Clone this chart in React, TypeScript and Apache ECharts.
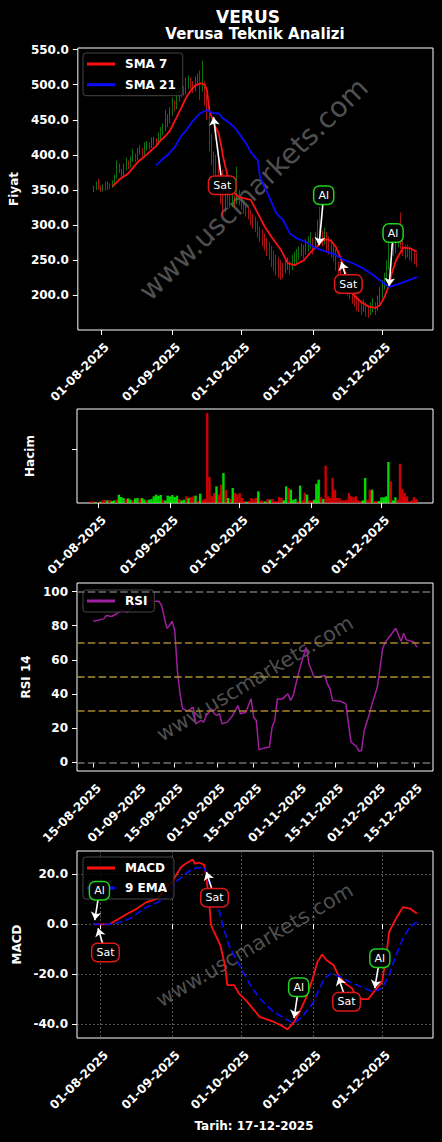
import { useEffect, useRef } from 'react';
import * as echarts from 'echarts';

const F = 'DejaVu Sans';
const START = Date.UTC(2025, 6, 29);
const DAY = 86400000;
const day = (i: number) => START + i * DAY;

// candles: [open, close, low, high], one per day from 29-07-2025
const candles: number[][] = [
  [350,352,347,356],[352,357,350,362],[357,355,350,366],[355,350,347,357],[350,354,348,358],
  [354,352,349,362],[352,356,350,362],[356,355,351,360],[355,360,353,364],[360,368,358,372],
  [368,385,366,392],[385,378,374,388],[378,372,368,380],[372,380,370,388],[380,388,378,396],
  [388,384,380,392],[384,392,382,398],[392,398,390,408],[398,395,390,402],[395,402,392,410],
  [402,406,400,414],[406,403,398,410],[403,410,400,418],[410,414,406,420],[414,412,408,418],
  [412,418,410,425],[418,420,414,426],[420,416,412,424],[416,424,414,432],[424,432,420,440],
  [432,438,428,445],[438,446,434,464],[446,448,440,458],[448,460,445,468],[460,470,456,482],
  [470,468,462,478],[468,480,465,489],[480,488,476,495],[488,494,482,500],[494,490,484,498],
  [490,498,486,510],[498,505,494,513],[505,500,494,510],[500,496,488,505],[496,505,490,512],
  [505,510,498,516],[510,498,478,520],[498,502,490,534],[502,480,470,506],[480,462,450,488],
  [462,420,405,470],[420,400,385,430],[400,395,372,405],[395,385,369,400],[385,368,355,392],
  [368,345,330,375],[345,322,312,379],[322,340,318,350],[340,335,326,355],[335,330,324,345],
  [330,338,326,348],[338,332,326,342],[332,345,330,383],[345,335,328,350],[335,330,322,340],
  [330,325,316,336],[325,322,312,330],[322,318,308,326],[318,310,300,322],[310,305,295,316],
  [305,300,290,312],[300,292,282,306],[292,288,276,298],[288,282,270,294],[282,276,264,288],
  [276,270,256,282],[270,265,250,276],[265,258,240,270],[258,252,235,264],[252,248,228,258],
  [248,245,225,254],[245,240,222,250],[240,238,224,246],[238,242,232,250],[242,246,236,254],
  [246,240,230,250],[240,248,236,258],[248,252,242,262],[252,256,246,266],[256,262,250,270],
  [262,266,256,274],[266,262,252,272],[262,268,258,280],[268,272,262,284],[272,275,266,290],
  [275,270,258,282],[270,278,266,290],[278,290,274,308],[290,284,276,326],[284,282,270,292],
  [282,285,272,296],[285,280,264,290],[280,276,258,284],[276,270,254,280],[270,262,248,274],
  [262,244,235,266],[244,234,227,248],[234,226,218,240],[226,222,210,230],[222,215,205,226],
  [215,210,200,218],[210,204,195,214],[204,198,188,210],[198,194,184,206],[194,190,178,200],
  [190,186,176,196],[186,182,172,192],[182,185,176,194],[185,180,170,190],[180,176,168,186],
  [176,182,172,190],[182,186,176,196],[186,180,172,190],[180,190,178,200],[190,200,186,212],
  [200,212,196,222],[212,225,208,232],[225,240,220,250],[240,255,236,275],[255,262,250,272],
  [262,268,256,276],[268,272,260,280],[272,290,268,300],[290,272,266,318],[272,268,256,280],
  [268,265,252,272],[265,263,254,272],[263,262,250,270],[262,258,248,268],[258,255,244,264],
  [255,248,240,260],
];

const volumes: number[] = [
  4,5,3,3,4,8,9,8,9,6, 8,10,25,18,15,12,14,10,8,14, 15,13,15,10,8,10,12,20,25,22,
  24,10,8,22,20,24,18,22,12,8, 10,20,15,18,20,22,6,28,10,12, 270,78,20,30,50,25,55,90,40,15,
  12,45,30,25,30,15,5,4,6,15, 12,15,35,8,6,5,12,10,12,6, 5,18,15,8,50,45,40,10,12,5,
  52,8,30,25,8,6,10,58,70,18, 12,112,20,15,75,40,15,15,8,8, 10,30,20,18,20,8,6,8,75,10,
  40,40,6,5,6,17,17,20,123,65, 8,17,10,118,42,30,20,5,8,18, 12,
];
const volumeDir =
  'rrgrgrrgrg' + 'grgggrggrg' + 'grggrggggg' + 'grggggggrg' + 'grgrrgrgrr' +
  'rrrrgrrgrg' + 'rgrrrrrgrr' + 'rrgrrgrgrr' + 'rrrggrgggr' + 'grrgrrgggr' +
  'grrrrrrrrr' + 'rrrrrrrggr' + 'rgrrgggggr' + 'ggrrrrrrrr' + 'r';

const sma7: number[][] = [
  [8,355],[11,365],[15,374],[19,390],[22,398],[25,407],[27,413],[29,421],[31,427],[33,435],
  [35,448],[38,468],[40,482],[42,492],[44,499],[46,502],[48,500],[49,492],[50,464],[52,445],
  [54,431],[55,416],[56,397],[58,369],[59,355],[61,345],[63,340],[68,336],[71,317],[74,298],
  [77,283],[81,265],[84,246],[87,243],[91,250],[95,265],[97,270],[99,278],[101,280],[103,277],
  [105,268],[107,253],[109,232],[111,210],[113,199],[116,190],[119,184],[122,182],[124,186],
  [126,198],[128,215],[129,230],[131,250],[134,268],[137,267],[140,262],
];
const sma21: number[][] = [
  [27,385],[30,395],[32,400],[35,411],[38,428],[40,435],[43,449],[46,459],[49,464],[51,460],
  [54,459],[56,452],[59,445],[61,439],[63,430],[66,416],[68,404],[71,392],[72,369],[74,354],
  [76,340],[79,317],[82,307],[85,288],[88,281],[92,276],[95,269],[100,263],[104,259],[108,251],
  [112,246],[117,238],[121,229],[125,219],[128,212],[131,215],[136,221],[140,226],
];
const rsi: number[][] = [
  [17,82.6],[21,84],[22,86],[24,85.4],[26,87],[28,89.3],[30,87.9],[32,90.8],[34,93.7],[35,94.3],
  [42,94.3],[43,91.8],[45,78.5],[46,80],[47,82.6],[48,77.2],[49,53.8],[50,40.2],[51,31.4],[53,30],
  [54,31.4],[55,32.3],[56,22.6],[58,24.6],[59,23.6],[60,27.5],[62,31.4],[63,28.5],[64,27.5],[65,28.5],
  [66,22.6],[68,23.6],[70,27.5],[72,33.3],[73,28.5],[75,29.4],[76,33.3],[77,37.2],[78,26.5],[79,24.6],
  [80,7.4],[82,8.4],[84,9],[85,20.6],[86,24.6],[87,37.2],[89,37.2],[91,40.2],[92,36.3],[93,39.2],
  [95,51.9],[96,57.7],[98,67.4],[99,57.7],[101,49.9],[102,49.9],[105,50.9],[106,46],[107,43.1],[108,36.3],
  [111,35.8],[113,34.3],[115,11.9],[117,9.5],[118,6.6],[119,7],[120,18.7],[122,28.5],[123,34.3],[125,44],
  [127,66.5],[128,70.4],[130,74.3],[132,78.5],[134,70.9],[135,75.6],[136,71.8],[139,70.4],[140,67.4],
];
const macd: number[][] = [
  [0,0],[7,0],[10,1.6],[15,4.3],[19,6.3],[23,8.9],[28,10.3],[30,12.9],[34,16.9],[38,22.9],
  [40,24.3],[43,26],[44,24.3],[46,24.7],[48,23.9],[49,18.3],[50,10.3],[51,-0.4],[53,-4.4],[55,-8.4],
  [57,-16.4],[58,-24.4],[61,-24.4],[63,-27.7],[66,-30.4],[69,-33.7],[72,-37.1],[77,-38.7],[81,-40.4],[84,-42.1],
  [87,-39.1],[90,-33.7],[92,-29.7],[95,-21.7],[97,-15.1],[99,-12.1],[101,-14.4],[104,-16.4],[106,-20.4],[109,-23.7],
  [112,-25.7],[114,-29.7],[117,-30],[119,-30],[122,-26.4],[125,-23.1],[127,-11.1],[128,-3.1],[131,2.3],[134,6.9],
  [137,6.3],[140,4.3],
];
const signal: number[][] = [
  [0,0],[7,0],[12,0.9],[16,2.3],[22,6.3],[28,8.9],[32,10.9],[35,16.3],[39,19.6],[43,22.3],
  [48,22.9],[50,16.9],[54,7.6],[56,-0.4],[59,-9.1],[64,-17.7],[68,-24.4],[72,-29.7],[78,-35.1],[84,-38.4],
  [87,-39.7],[91,-36.4],[95,-31.7],[100,-21.7],[103,-19.7],[107,-21.1],[111,-23.1],[116,-25.1],[121,-27.1],[125,-25.7],
  [128,-20.4],[131,-12.4],[134,-5.7],[137,-1.1],[140,0.9],
];

// signals: kind, arrow tip [dayIndex, value], label box [dayIndex, value]
const priceSignals: { kind: string; tip: number[]; box: number[] }[] = [
  { kind: 'Sat', tip: [51.8, 453.7], box: [55.6, 356.9] },
  { kind: 'Al', tip: [97.6, 271.5], box: [99.6, 342.7] },
  { kind: 'Sat', tip: [107.2, 247.3], box: [110.3, 216.0] },
  { kind: 'Al', tip: [128.0, 213.2], box: [129.7, 288.6] },
];
const macdSignals: { kind: string; tip: number[]; box: number[] }[] = [
  { kind: 'Al', tip: [0.7, 1.7], box: [2.7, 13.5] },
  { kind: 'Sat', tip: [2.1, -1.6], box: [5.3, -11.3] },
  { kind: 'Sat', tip: [49.0, 21.0], box: [52.5, 10.7] },
  { kind: 'Al', tip: [86.9, -37.6], box: [88.9, -25.2] },
  { kind: 'Sat', tip: [106.1, -21.2], box: [109.6, -31.1] },
  { kind: 'Al', tip: [121.8, -25.6], box: [124.0, -13.6] },
];

const monthTicks = [Date.UTC(2025,7,1), Date.UTC(2025,8,1), Date.UTC(2025,9,1), Date.UTC(2025,10,1), Date.UTC(2025,11,1)];
const rsiDateTicks = [
  Date.UTC(2025,7,15), Date.UTC(2025,8,1), Date.UTC(2025,8,15), Date.UTC(2025,9,1), Date.UTC(2025,9,15),
  Date.UTC(2025,10,1), Date.UTC(2025,10,15), Date.UTC(2025,11,1), Date.UTC(2025,11,15),
];
const priceYTicks = [200, 250, 300, 350, 400, 450, 500, 550];
const volumeYTicks = [162];
const rsiYTicks = [0, 20, 40, 60, 80, 100];
const macdYTicks = [-40, -20, 0, 20];
const rsiLevels = [
  { v: 0, c: '#6e6e6e' }, { v: 100, c: '#6e6e6e' },
  { v: 30, c: '#a8842c' }, { v: 50, c: '#a8942c' }, { v: 70, c: '#a8842c' },
];

const GREEN = '#12a512';
const RED = '#f01c1c';
const SOLID_ICON = 'path://M0,0H28V3H0Z';
const DASH_ICON = 'path://M0,0H8V3H0ZM10.5,0H17.5V3H10.5ZM20,0H28V3H20Z';
const pad2 = (n: number) => String(n).padStart(2, '0');
const fmtDate = (v: number) => {
  const d = new Date(v);
  return `${pad2(d.getUTCDate())}-${pad2(d.getUTCMonth() + 1)}-${d.getUTCFullYear()}`;
};

const labelBase = { color: '#fff', fontWeight: 'bold' as const, fontSize: 12, fontFamily: F };

function makeX(gridIndex: number, min: number, max: number, ticks: number[]) {
  return {
    type: 'value', gridIndex, min, max, scale: true,
    axisLine: { show: false },
    axisTick: { show: true, customValues: ticks, length: 5, lineStyle: { color: '#fff', width: 1 } },
    axisLabel: { ...labelBase, customValues: ticks, rotate: 45, formatter: (v: number) => fmtDate(v), margin: 9, verticalAlign: 'top', lineHeight: 17, hideOverlap: false },
    splitLine: { show: gridIndex === 3, lineStyle: { color: '#666', width: 0.8, type: [2, 2] } },
  };
}
function makeY(gridIndex: number, min: number, max: number, ticks: number[], name: string, gap: number, fmt: (v: number) => string, showLabel = true) {
  return {
    type: 'value', gridIndex, min, max, name, nameLocation: 'middle', nameGap: gap, nameRotate: 90,
    nameTextStyle: { ...labelBase },
    axisLine: { show: false },
    axisTick: { show: true, customValues: ticks, length: 5, lineStyle: { color: '#fff', width: 1 } },
    axisLabel: { ...labelBase, show: showLabel, customValues: ticks, formatter: fmt, margin: 9 },
    splitLine: { show: gridIndex === 3, lineStyle: { color: '#666', width: 0.8, type: [2, 2] } },
  };
}

function signalSeries(gridIndex: number, sigs: { kind: string; tip: number[]; box: number[] }[]) {
  return [
    {
      type: 'scatter', xAxisIndex: gridIndex, yAxisIndex: gridIndex, data: [], z: 8, silent: true,
      markLine: {
        silent: true, symbol: ['none', 'arrow'], symbolSize: 8, label: { show: false },
        lineStyle: { color: '#fff', width: 1.6, type: 'solid' },
        emphasis: { disabled: true },
        data: sigs.map((s) => [{ coord: [day(s.box[0]), s.box[1]] }, { coord: [day(s.tip[0]), s.tip[1]] }]),
      },
    },
    {
      type: 'scatter', xAxisIndex: gridIndex, yAxisIndex: gridIndex, data: [], z: 9, silent: true,
      markPoint: {
        silent: true, symbol: 'rect', symbolSize: 1, itemStyle: { color: 'rgba(0,0,0,0)' },
        data: sigs.map((s) => ({
          name: s.kind, coord: [day(s.box[0]), s.box[1]],
          label: {
            show: true, position: 'inside', formatter: s.kind, color: '#fff', fontSize: 11, fontFamily: F,
            backgroundColor: '#000', borderColor: s.kind === 'Al' ? '#1ed41e' : '#e01818', borderWidth: 1.5,
            borderRadius: 5, padding: [3, 4, 3, 4],
          },
        })),
      },
    },
  ];
}

const legendBase = {
  orient: 'vertical', left: 83, padding: [4, 7, 4, 4], itemWidth: 28, itemHeight: 3,
  backgroundColor: 'rgba(0,0,0,0.8)', borderColor: '#444', borderWidth: 1, borderRadius: 3,
  textStyle: { ...labelBase, padding: [0, 0, 0, 5], lineHeight: 14 }, selectedMode: false,
};

export default function App() {
  const ref = useRef<HTMLDivElement>(null);
  useEffect(() => {
    document.body.style.margin = '0';
    document.body.style.background = '#000';
    if (!ref.current) return;
    const chart = echarts.init(ref.current, null, { renderer: 'svg' });
    const option: any = {
      animation: false,
      backgroundColor: '#000',
      grid: [
        { left: 77, top: 48, width: 356, height: 282, show: true, borderColor: '#fff', borderWidth: 1, backgroundColor: 'transparent' },
        { left: 77, top: 409, width: 356, height: 94, show: true, borderColor: '#fff', borderWidth: 1, backgroundColor: 'transparent' },
        { left: 77, top: 583, width: 356, height: 188, show: true, borderColor: '#fff', borderWidth: 1, backgroundColor: 'transparent' },
        { left: 77, top: 851, width: 356, height: 187, show: true, borderColor: '#fff', borderWidth: 1, backgroundColor: 'transparent' },
      ],
      xAxis: [
        makeX(0, day(-7), day(147), monthTicks),
        makeX(1, day(-6.04), day(147.2), monthTicks),
        makeX(2, day(10.85), day(146.15), rsiDateTicks),
        makeX(3, day(-7), day(147), monthTicks),
      ],
      yAxis: [
        makeY(0, 150.6, 552.3, priceYTicks, 'Fiyat', 55, (v) => v.toFixed(1)),
        makeY(1, 0, 282, volumeYTicks, 'Hacim', 41, () => '', false),
        makeY(2, -5, 105, rsiYTicks, 'RSI 14', 41, (v) => String(v)),
        makeY(3, -45.6, 29.4, macdYTicks, 'MACD', 53, (v) => v.toFixed(1)),
      ],
      legend: [
        { ...legendBase, top: 53, itemGap: 6.7, data: [{ name: 'SMA 7', icon: SOLID_ICON }, { name: 'SMA 21', icon: SOLID_ICON }] },
        { ...legendBase, top: 590, itemGap: 6, data: [{ name: 'RSI', icon: SOLID_ICON }] },
        { ...legendBase, top: 857, itemGap: 6, data: [{ name: 'MACD', icon: SOLID_ICON }, { name: '9 EMA', icon: DASH_ICON }] },
      ],
      graphic: [
        { type: 'text', x: 248, y: 16.5, z: 10, style: { text: 'VERUS', fill: '#fff', font: `bold 17px "${F}"`, align: 'center', verticalAlign: 'middle' } },
        { type: 'text', x: 255, y: 34, z: 10, style: { text: 'Verusa Teknik Analizi', fill: '#fff', font: `bold 15px "${F}"`, align: 'center', verticalAlign: 'middle' } },
        { type: 'text', x: 254, y: 1126, z: 10, style: { text: 'Tarih: 17-12-2025', fill: '#fff', font: `bold 12px "${F}"`, align: 'center', verticalAlign: 'middle' } },
        { type: 'text', x: 253.5, y: 189, z: 1, rotation: (44 * Math.PI) / 180, style: { text: 'www.uscmarkets.com', fill: 'rgba(150,150,150,0.55)', font: `28px "${F}"`, align: 'center', verticalAlign: 'middle' } },
        { type: 'text', x: 255, y: 678.5, z: 1, rotation: (30.8 * Math.PI) / 180, style: { text: 'www.uscmarkets.com', fill: 'rgba(150,150,150,0.55)', font: `20.6px "${F}"`, align: 'center', verticalAlign: 'middle' } },
        { type: 'text', x: 254.5, y: 945, z: 1, rotation: (30.3 * Math.PI) / 180, style: { text: 'www.uscmarkets.com', fill: 'rgba(150,150,150,0.55)', font: `20.6px "${F}"`, align: 'center', verticalAlign: 'middle' } },
      ],
      series: [
        {
          type: 'candlestick', xAxisIndex: 0, yAxisIndex: 0, z: 2,
          data: candles.map((c, i) => [day(i), c[0], c[1], c[2], c[3]]),
          encode: { x: 0, y: [1, 2, 3, 4] },
          barWidth: 0.9,
          itemStyle: { color: GREEN, color0: RED, borderColor: GREEN, borderColor0: RED, borderWidth: 0.7 },
        },
        { name: 'SMA 7', type: 'line', xAxisIndex: 0, yAxisIndex: 0, z: 3, symbol: 'none', data: sma7.map(([i, v]) => [day(i), v]), lineStyle: { color: '#ff1010', width: 1.8 }, itemStyle: { color: '#ff1010' } },
        { name: 'SMA 21', type: 'line', xAxisIndex: 0, yAxisIndex: 0, z: 3, symbol: 'none', data: sma21.map(([i, v]) => [day(i), v]), lineStyle: { color: '#0a0aff', width: 1.8 }, itemStyle: { color: '#0a0aff' } },
        {
          type: 'bar', xAxisIndex: 1, yAxisIndex: 1, barWidth: 2.4,
          data: volumes.map((v, i) => ({ value: [day(i), v], itemStyle: { color: volumeDir[i] === 'g' ? 'rgba(0,255,0,0.85)' : 'rgba(255,0,0,0.8)' } })),
        },
        {
          name: 'RSI', type: 'line', xAxisIndex: 2, yAxisIndex: 2, z: 3, symbol: 'none',
          data: rsi.map(([i, v]) => [day(i), v]), lineStyle: { color: '#a01ea0', width: 1.5 }, itemStyle: { color: '#a01ea0' },
          markLine: {
            silent: true, symbol: 'none', label: { show: false }, emphasis: { disabled: true },
            data: rsiLevels.map((l) => ({ yAxis: l.v, lineStyle: { color: l.c, width: 1.5, type: [7.5, 3.3] } })),
          },
        },
        { name: 'MACD', type: 'line', xAxisIndex: 3, yAxisIndex: 3, z: 3, symbol: 'none', data: macd.map(([i, v]) => [day(i), v]), lineStyle: { color: '#ff1010', width: 1.8 }, itemStyle: { color: '#ff1010' } },
        { name: '9 EMA', type: 'line', xAxisIndex: 3, yAxisIndex: 3, z: 3, symbol: 'none', data: signal.map(([i, v]) => [day(i), v]), lineStyle: { color: '#0a0aff', width: 1.6, type: [7.5, 3.5] }, itemStyle: { color: '#0a0aff' } },
        ...signalSeries(0, priceSignals),
        ...signalSeries(3, macdSignals),
      ],
    };
    chart.setOption(option);
    return () => chart.dispose();
  }, []);
  return <div ref={ref} style={{ width: 442, height: 1142, background: '#000' }} />;
}
